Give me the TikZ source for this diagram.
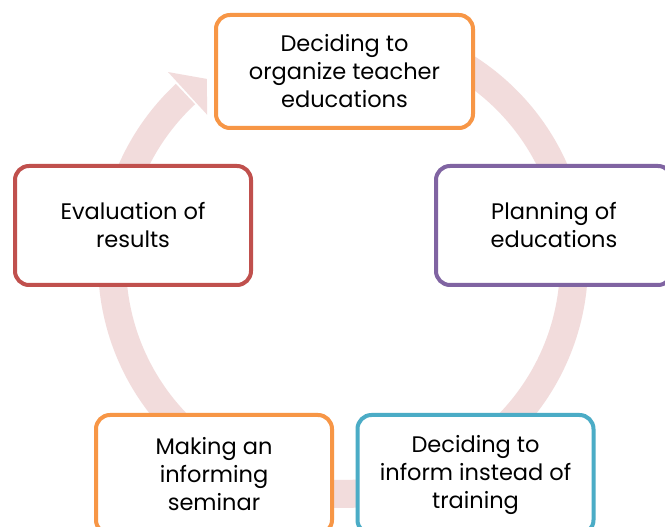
\documentclass[tikz,border=0pt]{standalone}
\usepackage{fontspec}
\setmainfont{Poppins}
\definecolor{ringc}{RGB}{242,220,220}
\definecolor{corange}{RGB}{247,150,70}
\definecolor{cred}{RGB}{192,80,77}
\definecolor{cpurple}{RGB}{128,100,162}
\definecolor{cteal}{RGB}{75,172,198}
\tikzset{
  cbox/.style={draw=#1, line width=4pt, rounded corners=14pt, fill=white,
    minimum width=236pt, minimum height=119pt, align=center, inner sep=0pt,
    font=\fontsize{22.5}{28}\selectfont, text=black},
  ring/.style={draw=ringc, line width=28pt}
}
\begin{document}
\begin{tikzpicture}[x=1pt,y=1pt]
\useasboundingbox (0,0) rectangle (665,527);
\clip (0,0) rectangle (665,527);
\fill[white] (0,0) rectangle (665,527);
\coordinate (C) at (343,264);
% ring arrow
\draw[ring] (C) ++(95:231) arc[start angle=95, end angle=-227, radius=231];
\begin{scope}[shift={(C)}]
  \coordinate (h1) at (132.5:259);
  \coordinate (h2) at (126.5:229);
  \coordinate (h3) at (132.5:201);
  \fill[ringc] (h1) -- (h2) -- (h3) -- cycle;
\end{scope}
% boxes
\node[cbox=corange, minimum width=257pt, minimum height=113pt] (n1) at (344.5,455.5) {Deciding to\\organize teacher\\educations};
\node[cbox=cpurple] (n2) at (554,301.5) {Planning of\\educations};
\node[cbox=cteal] (n3) at (475.5,52.5) {Deciding to\\inform instead of\\training};
\node[cbox=corange] (n4) at (214,52.5) {Making an\\informing\\seminar};
\node[cbox=cred] (n5) at (133,301.5) {Evaluation of\\results};
\end{tikzpicture}
\end{document}
